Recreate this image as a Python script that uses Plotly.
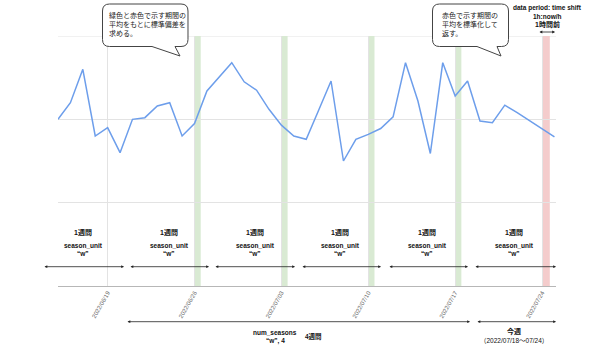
import plotly.graph_objects as go

# ---------------- data ----------------
dates = [
    "2022-06-15", "2022-06-16", "2022-06-17", "2022-06-18", "2022-06-19", "2022-06-20", "2022-06-21",
    "2022-06-22", "2022-06-23", "2022-06-24", "2022-06-25", "2022-06-26", "2022-06-27", "2022-06-28",
    "2022-06-29", "2022-06-30", "2022-07-01", "2022-07-02", "2022-07-03", "2022-07-04", "2022-07-05",
    "2022-07-06", "2022-07-07", "2022-07-08", "2022-07-09", "2022-07-10", "2022-07-11", "2022-07-12",
    "2022-07-13", "2022-07-14", "2022-07-15", "2022-07-16", "2022-07-17", "2022-07-18", "2022-07-19",
    "2022-07-20", "2022-07-21", "2022-07-22", "2022-07-23", "2022-07-24", "2022-07-25",
]
values = [
    20.0, 22.0, 26.0, 18.0, 19.0, 16.0, 20.0, 20.2, 21.6, 22.0, 18.0, 19.5, 23.4, 25.1,
    26.8, 24.5, 23.5, 21.2, 19.3, 18.0, 17.6, 21.1, 24.6, 15.0, 17.6, 18.2, 18.9, 20.3,
    26.8, 22.2, 15.9, 26.8, 22.8, 24.6, 19.8, 19.6, 21.7, 20.8, 19.8, 18.8, 17.9,
]
tick_dates = ["2022-06-19", "2022-06-26", "2022-07-03", "2022-07-10", "2022-07-17", "2022-07-24"]
tick_labels = ["2022/06/19", "2022/06/26", "2022/07/03", "2022/07/10", "2022/07/17", "2022/07/24"]
green_dates = ["2022-06-26", "2022-07-03", "2022-07-10", "2022-07-17"]
red_dates = ["2022-07-24"]
y_grid = [10, 20, 30]

week_label = "1週間"
season_label = "season_unit"
season_value = "“w”"
callout1_text = "緑色と赤色で示す期間の<br>平均をもとに標準偏差を<br>求める。"
callout2_text = "赤色で示す期間の<br>平均を標準化して<br>返す。"
shift_text = ["data period: time shift", "1h:now/h", "1時間前"]
num_seasons_text = ["num_seasons", "“w”, 4"]
four_weeks = "4週間"
this_week = ["今週", "（2022/07/18〜07/24）"]

# ---------------- layout helpers ----------------
W, H = 602, 348
L, R, T, B = 58, 556, 36, 286


def PX(x):
    return (x - L) / (R - L)


def PY(y):
    return (B - y) / (B - T)


FONT = "Liberation Sans, Arial, Noto Sans CJK JP, sans-serif"
GRID = "#e3e3e3"

fig = go.Figure()
fig.add_trace(go.Scatter(
    x=dates, y=values, mode="lines",
    line=dict(color="#6d9eeb", width=1.5),
    hoverinfo="skip", showlegend=False,
))

shapes = []
# top gridline (coincides with plot edge)
shapes.append(dict(type="line", xref="paper", yref="y", x0=0, x1=1, y0=y_grid[-1], y1=y_grid[-1],
                   line=dict(color=GRID, width=1), layer="below"))
for d in green_dates:
    shapes.append(dict(type="rect", xref="x", yref="paper", x0=d + " 00:00", x1=d + " 12:00",
                       y0=0, y1=1, fillcolor="#d9ead3", line=dict(width=0), layer="between"))
for d in red_dates:
    shapes.append(dict(type="rect", xref="x", yref="paper", x0=d + " 01:00", x1=d + " 15:00",
                       y0=0, y1=1, fillcolor="#f4cccc", line=dict(width=0), layer="between"))


def callout_path(x0, y0, x1, y1, r, bl, br, tx, ty):
    pts = [
        ("M", [(x0 + r, y0)]),
        ("L", [(x1 - r, y0)]),
        ("Q", [(x1, y0), (x1, y0 + r)]),
        ("L", [(x1, y1 - r)]),
        ("Q", [(x1, y1), (x1 - r, y1)]),
        ("L", [(br, y1)]),
        ("L", [(tx, ty)]),
        ("L", [(bl, y1)]),
        ("L", [(x0 + r, y1)]),
        ("Q", [(x0, y1), (x0, y1 - r)]),
        ("L", [(x0, y0 + r)]),
        ("Q", [(x0, y0), (x0 + r, y0)]),
    ]
    s = ""
    for cmd, ps in pts:
        s += cmd + " " + " ".join(f"{PX(a):.5f},{PY(b):.5f}" for a, b in ps) + " "
    return s + "Z"


shapes.append(dict(type="path", xref="paper", yref="paper",
                   path=callout_path(102.5, 4, 188, 46.5, 7, 152, 175, 180, 56),
                   fillcolor="white", line=dict(color="#444", width=1), layer="above"))
shapes.append(dict(type="path", xref="paper", yref="paper",
                   path=callout_path(432.5, 4, 508.5, 46.5, 7, 477, 497, 501, 56),
                   fillcolor="white", line=dict(color="#444", width=1), layer="above"))

ann = []


def text(x, y, s, size=7, bold=False, xanchor="center"):
    ann.append(dict(xref="paper", yref="paper", x=PX(x), y=PY(y), text=("<b>%s</b>" % s) if bold else s,
                    showarrow=False, xanchor=xanchor, yanchor="middle",
                    font=dict(family=FONT, size=size, color="#111"), align="left"))


def arrow(x0, x1, y):
    ann.append(dict(xref="paper", yref="paper", x=PX(x1), y=PY(y), ax=-(x1 - x0), ay=0,
                    axref="pixel", ayref="pixel", text="", showarrow=True,
                    arrowhead=2, arrowside="end+start", arrowsize=0.7, arrowwidth=0.8,
                    arrowcolor="#222", standoff=0, startstandoff=0))


week_centers = [83, 169, 255, 340, 427, 514]
for cx in week_centers:
    text(cx, 232, week_label, size=7, bold=True)
    text(cx, 245, season_label, size=6.5, bold=True)
    text(cx, 253, season_value, size=6.5, bold=True)

for x0, x1 in [(43, 124), (129, 209), (214, 295), (301, 381), (388, 468), (474, 556)]:
    arrow(x0, x1, 266.7)

arrow(126, 470, 321.7)
arrow(476, 556, 321.7)
text(275, 332, num_seasons_text[0], size=6.5, bold=True)
text(275, 341, num_seasons_text[1], size=6.5, bold=True)
text(313, 336, four_weeks, size=6.5, bold=True)
text(514, 331, this_week[0], size=7, bold=True)
text(514, 340, this_week[1], size=6.5)

text(547, 8.5, shift_text[0], size=6.5, bold=True)
text(547, 16.5, shift_text[1], size=6.5, bold=True)
text(547, 24.5, shift_text[2], size=7, bold=True)
arrow(538, 555, 32)

ann.append(dict(xref="paper", yref="paper", x=PX(107), y=PY(24.5), text=callout1_text,
                showarrow=False, xanchor="left", yanchor="middle", align="left",
                font=dict(family=FONT, size=7, color="#222")))
ann.append(dict(xref="paper", yref="paper", x=PX(440), y=PY(25), text=callout2_text,
                showarrow=False, xanchor="left", yanchor="middle", align="left",
                font=dict(family=FONT, size=7, color="#222")))

fig.update_layout(
    width=W, height=H,
    margin=dict(l=L, r=W - R, t=T, b=H - B, pad=0),
    paper_bgcolor="white", plot_bgcolor="white",
    shapes=shapes, annotations=ann,
    showlegend=False,
    xaxis=dict(
        range=["2022-06-15 00:00", "2022-07-25 03:00"],
        tickvals=tick_dates, ticktext=tick_labels, tickangle=-60,
        tickfont=dict(family=FONT, size=6, color="#666"),
        showgrid=True, gridcolor=GRID, gridwidth=1,
        showline=True, linecolor="#b7b7b7", linewidth=1, ticks="", zeroline=False,
    ),
    yaxis=dict(
        range=[0, 30], tickvals=y_grid, showticklabels=False,
        showgrid=True, gridcolor=GRID, gridwidth=1, zeroline=False, showline=False, ticks="",
    ),
)

fig.write_html("out.html")
